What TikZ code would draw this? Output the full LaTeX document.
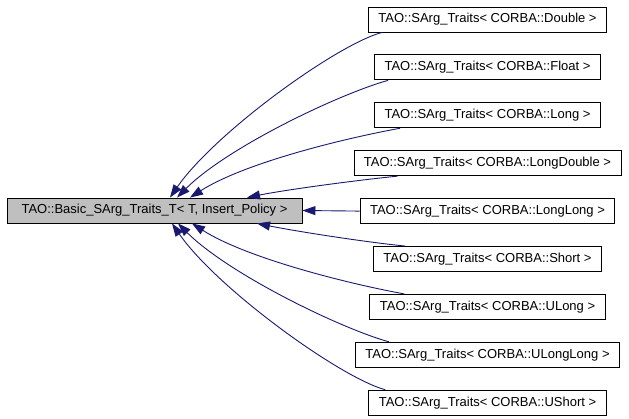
\documentclass[tikz,border=0pt]{standalone}
\usepackage{fontspec}
\setmainfont{Liberation Sans}
\usetikzlibrary{positioning}
\usetikzlibrary{arrows.meta}
\definecolor{edgeBlue}{HTML}{191970}
\definecolor{baseGray}{HTML}{BFBFBF}
\tikzset{
    objRectangle/.style={rectangle, minimum height=25pt, inner xsep=10pt, text centered, draw=black, line width=0.9pt, font=\fontsize{13}{15}\selectfont},
    objRectangleBase/.style={objRectangle, minimum width=295pt, fill=baseGray},
    arrow/.style={line width=0.9pt, draw=edgeBlue, ->, >={Triangle[length=13pt,width=9pt]}}
}
\begin{document}
\begin{tikzpicture}[x=1pt, y=1pt, node distance=47.9pt]
    \useasboundingbox (0,0) rectangle (629,-419);

    \node (000) [objRectangleBase] at (154.5,-210.5) {TAO::Basic\_SArg\_Traits\_T< T, Insert\_Policy >};
    \node (001) [objRectangle] at (487.5,-19.5) {TAO::SArg\_Traits< CORBA::Double >};
    \node (002) [objRectangle, below of=001] {TAO::SArg\_Traits< CORBA::Float >};
    \node (003) [objRectangle, below of=002] {TAO::SArg\_Traits< CORBA::Long >};
    \node (004) [objRectangle, below of=003] {TAO::SArg\_Traits< CORBA::LongDouble >};
    \node (005) [objRectangle, below of=004] {TAO::SArg\_Traits< CORBA::LongLong >};
    \node (006) [objRectangle, below of=005] {TAO::SArg\_Traits< CORBA::Short >};
    \node (007) [objRectangle, below of=006] {TAO::SArg\_Traits< CORBA::ULong >};
    \node (008) [objRectangle, below of=007] {TAO::SArg\_Traits< CORBA::ULongLong >};
    \node (009) [objRectangle, below of=008] {TAO::SArg\_Traits< CORBA::UShort >};

    \draw [arrow] ([xshift=14pt]001.south west) .. controls +(-45,-12) and +(45,65) .. ([xshift=15.5pt]000.north);
    \draw [arrow] ([xshift=14pt]002.south west) .. controls +(-50,-14) and +(50,50) .. ([xshift=22.5pt]000.north);
    \draw [arrow] ([xshift=26pt]003.south west) .. controls +(-55,-10) and +(55,35) .. ([xshift=35.5pt]000.north);
    \draw [arrow] ([xshift=44pt]004.south west) .. controls +(-40,-4) and +(40,8) .. ([xshift=92.5pt]000.north);
    \draw [arrow] (005.west) -- (000.east);
    \draw [arrow] ([xshift=32pt]006.north west) .. controls +(-40,4) and +(40,-8) .. ([xshift=102.5pt]000.south);
    \draw [arrow] ([xshift=35pt]007.north west) .. controls +(-55,10) and +(55,-35) .. ([xshift=37.5pt]000.south);
    \draw [arrow] ([xshift=34pt]008.north west) .. controls +(-50,14) and +(50,-50) .. ([xshift=23.5pt]000.south);
    \draw [arrow] ([xshift=17pt]009.north west) .. controls +(-45,12) and +(45,-65) .. ([xshift=17.5pt]000.south);

\end{tikzpicture}
\end{document}
